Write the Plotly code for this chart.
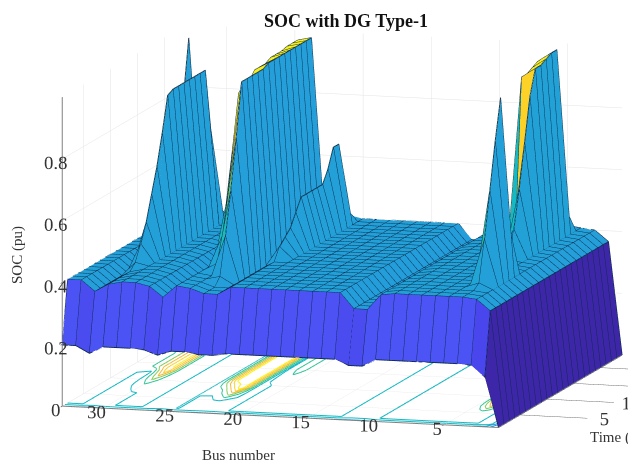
import numpy as np
import plotly.graph_objects as go

buses = list(range(1, 34))
hours = list(range(1, 25))
# value at hour 1, bus 1..33
first_hour = [0.0,0.16,0.197,0.2,0.2,0.2,0.2,0.2,0.2,0.2,0.177,0.177,0.195,0.195,0.195,0.195,0.195,
              0.195,0.195,0.195,0.195,0.188,0.188,0.195,0.195,0.18,0.195,0.198,0.198,0.198,0.175,0.198,0.198]
# plateau value from hour 2 on, bus 1..33
plateau = [0.0,0.365,0.40,0.405,0.405,0.405,0.405,0.405,0.405,0.40,0.35,0.35,0.40,0.40,0.40,0.40,0.40,
           0.40,0.40,0.40,0.40,0.375,0.375,0.39,0.396,0.357,0.39,0.40,0.40,0.39,0.365,0.40,0.40]
# hour: SOC overrides for the buses with charging peaks
bus_32 = {19:0.45,20:0.6,21:0.8,22:0.98,23:0.7,24:0.45}
bus_31 = {13:0.42,14:0.6,15:0.6,16:0.6,17:0.6,18:0.6,19:0.6,20:0.6,21:0.4}
bus_30 = {7:0.41,8:0.46,9:0.52,10:0.6,11:0.68,12:0.78,13:0.89,14:0.9,15:0.9,16:0.9,17:0.9,18:0.9,19:0.9,20:0.9,21:0.7,22:0.45}
bus_24 = {7:0.42,8:0.5,9:0.62,10:0.78,11:0.93,12:0.95,13:0.95,14:0.975,15:0.975,16:0.975,17:0.985,18:0.985,19:0.985,20:0.99,21:0.99,22:0.99,23:0.6,24:0.42}
bus_23 = {5:0.4,6:0.52,7:0.66,8:0.82,9:0.99,10:0.99,11:0.99,12:0.99,13:0.99,14:1.0,15:1.0,16:1.0,17:1.0,18:1.0,19:1.0,20:1.0,21:1.0,22:1.0,23:0.6,24:0.41}
bus_21 = {10:0.4,11:0.44,12:0.46,13:0.48,14:0.52,15:0.56,16:0.56,17:0.56,18:0.56,19:0.56,20:0.6,21:0.66,22:0.66,23:0.45,24:0.41}
bus_6 = {17:0.5,18:0.95,19:0.95,20:0.96,21:0.97,22:0.97,23:0.45}
bus_5 = {13:0.41,14:0.5,15:0.62,16:0.76,17:0.9,18:0.98,19:0.98,20:0.99,21:1.0,22:1.0,23:0.5,24:0.41}
bus_4 = {5:0.42,6:0.55,7:0.7,8:0.85,9:0.98,10:0.6,11:0.41}
peaks = {32:bus_32,31:bus_31,30:bus_30,24:bus_24,23:bus_23,21:bus_21,6:bus_6,5:bus_5,4:bus_4}

color_stops = [(0.0,(62,38,168)),(0.1,(70,50,225)),(0.2,(76,84,245)),(0.3,(40,150,225)),(0.35,(36,158,218)),(0.4,(35,160,216)),
               (0.5,(20,185,195)),(0.6,(48,196,150)),(0.7,(135,203,90)),(0.8,(240,185,60)),(0.9,(252,210,40)),(1.0,(249,240,25))]
contour_levels = [0.1,0.2,0.3,0.395,0.5,0.6,0.7,0.8,0.9]
line_color = "#0b2a4a"

soc = np.zeros((33, 24))
for bi in range(33):
    for ti in range(24):
        soc[bi, ti] = first_hour[bi] if ti == 0 else plateau[bi]
    for h, v in peaks.get(bi + 1, {}).items():
        soc[bi, h - 1] = v

def color_of(v):
    xs = [s[0] for s in color_stops]
    rgb = [np.interp(v, xs, [s[1][k] for s in color_stops]) for k in range(3)]
    return "rgb(%d,%d,%d)" % tuple(int(round(c)) for c in rgb)

B, T = np.meshgrid(buses, hours, indexing="ij")
vid = lambda b, t: b * 24 + t
ii, jj, kk, fc = [], [], [], []
for b in range(32):
    for t in range(23):
        c = color_of(soc[b, t])
        ii += [vid(b, t), vid(b, t)]
        jj += [vid(b + 1, t), vid(b + 1, t + 1)]
        kk += [vid(b + 1, t + 1), vid(b, t + 1)]
        fc += [c, c]

fig = go.Figure()
fig.add_trace(go.Mesh3d(x=B.ravel(), y=T.ravel(), z=soc.ravel(), i=ii, j=jj, k=kk, facecolor=fc,
                        flatshading=True, hoverinfo="skip",
                        lighting=dict(ambient=1, diffuse=0, specular=0, roughness=1, fresnel=0)))

# mesh edges
lx, ly, lz = [], [], []
for b in range(33):
    lx += [buses[b]] * 24 + [None]; ly += hours + [None]; lz += list(soc[b]) + [None]
for t in range(24):
    lx += buses + [None]; ly += [hours[t]] * 33 + [None]; lz += list(soc[:, t]) + [None]
fig.add_trace(go.Scatter3d(x=lx, y=ly, z=lz, mode="lines", line=dict(color=line_color, width=1.8),
                           hoverinfo="skip", showlegend=False))

# floor contours (marching squares over the same matrix)
def cross(p, q, vp, vq, lev):
    f = (lev - vp) / (vq - vp)
    return (p[0] + f * (q[0] - p[0]), p[1] + f * (q[1] - p[1]))

for lev in contour_levels:
    cx, cy = [], []
    for b in range(32):
        for t in range(23):
            corners = [(b, t), (b + 1, t), (b + 1, t + 1), (b, t + 1)]
            pts = []
            for a in range(4):
                p, q = corners[a], corners[(a + 1) % 4]
                vp, vq = soc[p], soc[q]
                if (vp < lev) != (vq < lev):
                    pts.append(cross((buses[p[0]], hours[p[1]]), (buses[q[0]], hours[q[1]]), vp, vq, lev))
            for s in range(0, len(pts) - 1, 2):
                cx += [pts[s][0], pts[s + 1][0], None]
                cy += [pts[s][1], pts[s + 1][1], None]
    fig.add_trace(go.Scatter3d(x=cx, y=cy, z=[0 if v is not None else None for v in cx], mode="lines",
                               line=dict(color=color_of(lev + 0.1 if lev > 0.3 else lev + 0.2), width=2),
                               hoverinfo="skip", showlegend=False))

axis_font = dict(family="Liberation Serif", size=15, color="#333333")
base_axis = dict(showbackground=False, gridcolor="#e4e4e4", gridwidth=1, showline=True, linecolor="#808080",
                 linewidth=2, zeroline=False, showspikes=False, ticks="outside", tickcolor="#555555", tickwidth=1.5,
                 tickfont=axis_font, tickangle=0, title=dict(text=""))
fig.update_layout(
    width=636, height=461, margin=dict(l=0, r=0, t=0, b=0), paper_bgcolor="white", showlegend=False,
    title=dict(text="<b>SOC with DG Type-1</b>", x=338/636, xanchor="center", y=1-13/461, yanchor="middle",
               font=dict(family="Liberation Serif", size=18, color="#111111")),
    scene=dict(
        domain=dict(x=[0, 1], y=[0, 1]),
        xaxis=dict(base_axis, range=[33, 1], tickvals=[5, 10, 15, 20, 25, 30], ticklen=70),
        yaxis=dict(base_axis, range=[1, 24], tickvals=[5, 10, 15, 20], ticklen=6),
        zaxis=dict(base_axis, range=[0, 1], tickvals=[0, 0.2, 0.4, 0.6, 0.8], ticktext=["0", "0.2", "0.4", "0.6", "0.8"], ticklen=45),
        aspectmode="manual", aspectratio=dict(x=1.97, y=1.93, z=1.36),
        camera=dict(projection=dict(type="orthographic"),
                    eye=dict(x=0.334, y=-1.407, z=0.194), center=dict(x=-0.073, y=0, z=-0.058), up=dict(x=0, y=0, z=1)),
    ),
    annotations=[
        dict(text="SOC (pu)", x=9/636, y=1-247/461, xref="paper", yref="paper", xanchor="center", yanchor="middle",
             showarrow=False, textangle=-90, font=axis_font),
        dict(text="Bus number", x=231/636, y=1-447/461, xref="paper", yref="paper", xanchor="center", yanchor="middle",
             showarrow=False, font=axis_font),
        dict(text="Time (h)", x=580/636, y=1-429/461, xref="paper", yref="paper", xanchor="left", yanchor="middle",
             showarrow=False, font=axis_font),
    ],
)
fig.write_html("out.html")
